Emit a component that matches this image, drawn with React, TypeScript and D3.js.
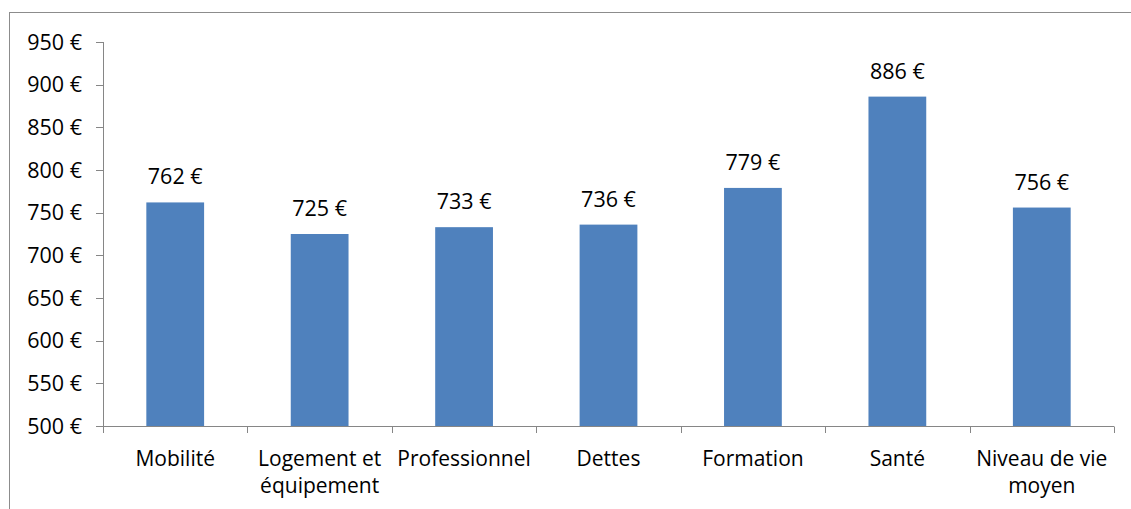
import React from "react";
import * as d3 from "d3";

const categories = [
  ["Mobilité"],
  ["Logement et", "équipement"],
  ["Professionnel"],
  ["Dettes"],
  ["Formation"],
  ["Santé"],
  ["Niveau de vie", "moyen"],
];
const values = [762, 725, 733, 736, 779, 886, 756];
const yTicks = [500, 550, 600, 650, 700, 750, 800, 850, 900, 950];

const W = 1131;
const H = 509;
const FONT = "'Open Sans', sans-serif";

export default function App() {
  const x = d3
    .scaleBand<number>()
    .domain(d3.range(values.length))
    .range([103, 1114])
    .paddingInner(0.6)
    .paddingOuter(0.3);
  const step = x.step();
  const y = d3.scaleLinear().domain([500, 950]).range([426, 42]);
  const fmt = (v: number) => `${v} €`;
  const axisColor = "#868686";

  return (
    <svg
      width={W}
      height={H}
      style={{ position: "fixed", left: 0, top: 0, background: "#fff" }}
      fontFamily={FONT}
    >
      <rect x={9.5} y={12.5} width={1300} height={700} fill="#fff" stroke="#8c8c8c" />
      {values.map((v, i) => (
        <rect
          key={i}
          x={x(i)}
          y={y(v)}
          width={x.bandwidth()}
          height={y(500) - y(v)}
          fill="#4F81BD"
        />
      ))}
      <line x1={103.5} x2={103.5} y1={y(950)} y2={y(500)} stroke={axisColor} />
      {yTicks.map((t) => (
        <g key={t}>
          <line x1={96} x2={103.5} y1={Math.round(y(t)) + 0.5} y2={Math.round(y(t)) + 0.5} stroke={axisColor} />
          <text x={82} y={y(t)} dy="0.35em" textAnchor="end" fontSize={21.5} fill="#000">
            {fmt(t)}
          </text>
        </g>
      ))}
      <line x1={103} x2={1114} y1={426.5} y2={426.5} stroke={axisColor} />
      {d3.range(values.length + 1).map((i) => {
        const xx = Math.round(103 + i * step) + 0.5;
        return <line key={i} x1={xx} x2={xx} y1={426.5} y2={433} stroke={axisColor} />;
      })}
      {categories.map((lines, i) => (
        <text
          key={i}
          x={(x(i) as number) + x.bandwidth() / 2}
          y={466}
          textAnchor="middle"
          fontSize={21}
          fill="#000"
        >
          {lines.map((l, j) => (
            <tspan key={j} x={(x(i) as number) + x.bandwidth() / 2} dy={j === 0 ? 0 : 27}>
              {l}
            </tspan>
          ))}
        </text>
      ))}
      {values.map((v, i) => (
        <text
          key={i}
          x={(x(i) as number) + x.bandwidth() / 2}
          y={y(v) - 18}
          textAnchor="middle"
          fontSize={21.5}
          fill="#000"
        >
          {fmt(v)}
        </text>
      ))}
    </svg>
  );
}
